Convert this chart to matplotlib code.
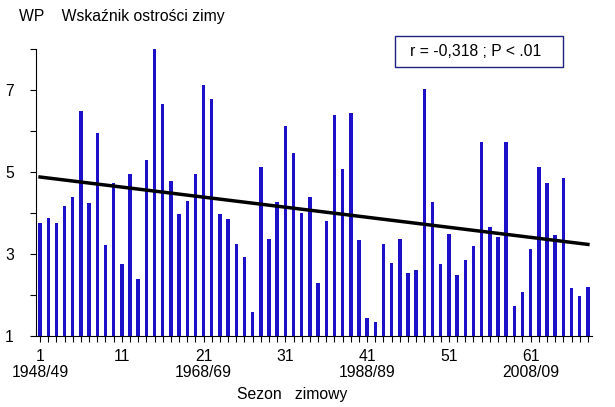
import numpy as np
from matplotlib import pyplot as plt
from matplotlib.patches import Rectangle

# Wskaźnik ostrości zimy (WP), sezony 1948/49 - 2015/16
seasons = list(range(1, 69))
wp_values = [
    3.75, 3.88, 3.75, 4.18, 4.40, 6.48, 4.25, 5.94, 3.22, 4.74,
    2.76, 4.96, 2.40, 5.30, 8.00, 6.65, 4.79, 3.97, 4.30, 4.96,
    7.11, 6.77, 3.98, 3.86, 3.25, 2.93, 1.59, 5.13, 3.37, 4.28,
    6.13, 5.47, 4.01, 4.40, 2.30, 3.81, 6.40, 5.08, 6.43, 3.35,
    1.44, 1.34, 3.25, 2.78, 3.37, 2.54, 2.61, 7.03, 4.28, 2.76,
    3.49, 2.49, 2.86, 3.20, 5.74, 3.67, 3.42, 5.72, 1.73, 2.08,
    3.13, 5.13, 4.74, 3.47, 4.86, 2.17, 1.98, 2.20,
]
major_ticks = [1, 11, 21, 31, 41, 51, 61]
major_labels = ['1\n1948/49', '11', '21\n1968/69', '31', '41\n1988/89', '51', '61\n2008/09']
y_ticks = [1, 2, 3, 4, 5, 6, 7, 8]
y_labels = ['1', '', '3', '', '5', '', '7', '']

plt.rcParams['font.family'] = ['Liberation Sans', 'DejaVu Sans']
fs = 11.3

fig = plt.figure(figsize=(6.15, 4.07), dpi=100)
ax = fig.add_axes([0.0585, 0.1744, 0.9041, 0.7052])

ax.bar(seasons, np.array(wp_values) - 1, bottom=1, width=0.42, color='#1c10c8')

# linia trendu
a, b = np.polyfit(seasons, wp_values, 1)
xs = np.array([seasons[0], seasons[-1]])
ax.plot(xs, a * xs + b, color='black', linewidth=2.5)

ax.set_xlim(0.5, 68.5)
ax.set_ylim(1, 8)
ax.spines['top'].set_visible(False)
ax.spines['right'].set_visible(False)

ax.set_xticks(seasons, minor=True)
ax.set_xticks(major_ticks)
ax.set_xticklabels(major_labels, fontsize=fs, linespacing=1.15)
ax.tick_params(axis='x', which='both', direction='out', length=4, width=0.8, pad=5)
ax.set_yticks(y_ticks)
ax.set_yticklabels(y_labels, fontsize=fs)
ax.tick_params(axis='y', direction='out', length=4, width=0.8, pad=12)

fig.text(19 / 615, 1 - 17 / 407, 'WP    Wskaźnik ostrości zimy', fontsize=fs, va='center', ha='left')
fig.text(292 / 615, 1 - 394 / 407, 'Sezon   zimowy', fontsize=fs, va='center', ha='center')

# ramka ze współczynnikiem korelacji
fig.patches.append(Rectangle((395 / 615, 1 - 67 / 407), 168 / 615, 31 / 407,
                             transform=fig.transFigure, facecolor='white',
                             edgecolor='#202080', linewidth=1, zorder=5))
fig.text(476 / 615, 1 - 51.5 / 407, 'r = -0,318 ; P < .01', fontsize=fs,
         ha='center', va='center', zorder=6)

fig.savefig('out.png', dpi=100)
